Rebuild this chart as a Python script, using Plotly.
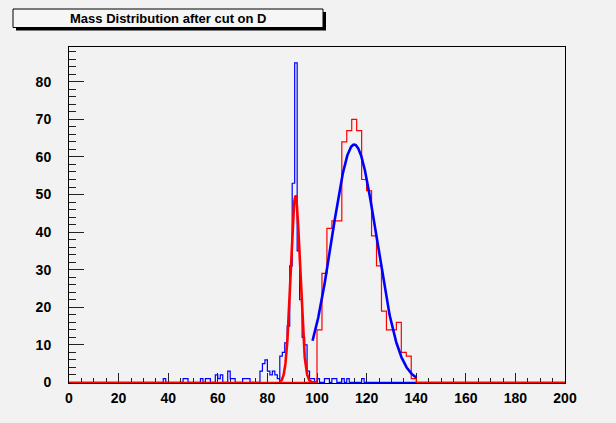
import numpy as np
import plotly.graph_objects as go

# ---- data ----
# blue histogram (bin width 1, range 0-200): non-empty bins (left edges) and counts
blue_bins = [38, 46, 47, 53, 55, 56, 59, 60, 61, 64, 65, 66, 70, 71, 72,
             77, 78, 79, 80, 81, 82, 83, 84, 85, 86, 87, 88, 89, 90, 91,
             92, 93, 94, 95, 96, 97, 98, 100, 103, 104, 106, 107, 110, 112, 118]
blue_counts = [1, 1, 1, 1, 1, 1, 2, 1, 2, 3, 1, 1, 1, 1, 1,
               3, 5, 6, 3, 2, 3, 2, 1, 7, 8, 10.5, 15, 31, 53, 85,
               35, 22, 12, 10, 3, 1, 1, 1, 1, 1, 1, 1, 1, 1, 1]

# red histogram (bin width 2, range 0-200): non-empty bins (left edges) and counts
red_bins = [100, 102, 104, 106, 108, 110, 112, 114, 116, 118,
            120, 122, 124, 126, 128, 130, 132, 134, 136, 138]
red_counts = [14, 29, 41, 43, 43, 64, 67, 70, 67, 54,
              51, 39, 31, 19, 14, 14, 16, 8, 7, 1]

# gaussian fits: amplitude, mean, sigma, fit range
red_fit = [49.7, 91.3, 1.88, 85.0, 100.0]
blue_fit = [63.3, 115.0, 9.0, 98.2, 140.0]

x_ticks = [0, 20, 40, 60, 80, 100, 120, 140, 160, 180, 200]
y_ticks = [0, 10, 20, 30, 40, 50, 60, 70, 80]
title_text = "Mass Distribution after cut on D"

X_MIN, X_MAX = 0, 200
Y_MAX = 89.25

BG = "#f2f2f2"
FONT = "Liberation Sans, Arial, sans-serif"


def hist_steps(bins, counts, width):
    edges = np.arange(X_MIN, X_MAX + width, width, dtype=float)
    full = np.zeros(len(edges) - 1)
    for b, c in zip(bins, counts):
        full[int(round((b - X_MIN) / width))] = c
    return edges, np.append(full, full[-1])


def gauss(p, n=300):
    a, m, s, lo, hi = p
    xs = np.linspace(lo, hi, n)
    return xs, a * np.exp(-0.5 * ((xs - m) / s) ** 2)


fig = go.Figure()

bx, by = hist_steps(blue_bins, blue_counts, 1)
fig.add_trace(go.Scatter(x=bx, y=by, mode="lines", line=dict(color="#0000ff", width=1.2, shape="hv"),
                         hoverinfo="skip", showlegend=False))
rx, ry = hist_steps(red_bins, red_counts, 2)
fig.add_trace(go.Scatter(x=rx, y=ry, mode="lines", line=dict(color="#ff0000", width=1.2, shape="hv"),
                         hoverinfo="skip", showlegend=False))
gx, gy = gauss(red_fit)
fig.add_trace(go.Scatter(x=gx, y=gy, mode="lines", line=dict(color="#ff0000", width=2.6),
                         hoverinfo="skip", showlegend=False))
gx, gy = gauss(blue_fit)
fig.add_trace(go.Scatter(x=gx, y=gy, mode="lines", line=dict(color="#0000ff", width=2.6),
                         hoverinfo="skip", showlegend=False))

W, H = 616, 423
L, R, T, B = 69, 51, 47, 40
pw, ph = W - L - R, H - T - B


def px2paper(px, py):
    return (px - L) / pw, (H - B - py) / ph


tick_font = dict(family=FONT, size=14, color="black", weight="bold")

fig.update_layout(
    width=W, height=H,
    margin=dict(l=L, r=R, t=T, b=B, pad=0),
    paper_bgcolor=BG, plot_bgcolor=BG,
    xaxis=dict(range=[X_MIN, X_MAX], tickvals=x_ticks, ticktext=[str(v) for v in x_ticks],
               ticks="inside", ticklen=10, tickwidth=1, tickcolor="#222",
               minor=dict(dtick=5, tick0=0, ticks="inside", ticklen=5, tickwidth=1, tickcolor="#222", showgrid=False),
               showline=True, mirror=True, linecolor="black", linewidth=1,
               showgrid=False, zeroline=False, tickfont=tick_font, layer="below traces",
               ticklabelstandoff=2),
    yaxis=dict(range=[-0.15, Y_MAX], tickvals=y_ticks, ticktext=[str(v) for v in y_ticks],
               ticks="inside", ticklen=15, tickwidth=1, tickcolor="#222",
               minor=dict(dtick=2, tick0=0, ticks="inside", ticklen=7, tickwidth=1, tickcolor="#222", showgrid=False),
               showline=True, mirror=True, linecolor="black", linewidth=1,
               showgrid=False, zeroline=False, tickfont=tick_font, layer="below traces",
               ticklabelstandoff=14),
)

# title box with ROOT-like shadow
x0, y0 = px2paper(13, 9)
x1, y1 = px2paper(323, 27.5)
sx0, sy0 = px2paper(16, 12)
sx1, sy1 = px2paper(326, 30.5)
fig.add_shape(type="rect", xref="paper", yref="paper", x0=sx0, x1=sx1, y0=sy1, y1=sy0,
              line=dict(width=0), fillcolor="black", layer="above")
fig.add_shape(type="rect", xref="paper", yref="paper", x0=x0, x1=x1, y0=y1, y1=y0,
              line=dict(width=1, color="black"), fillcolor="#f6f6f6", layer="above")
cx, cy = px2paper(168, 18.3)
fig.add_annotation(x=cx, y=cy, xref="paper", yref="paper", text=title_text, showarrow=False,
                   xanchor="center", yanchor="middle",
                   font=dict(family=FONT, size=13, color="black", weight="bold"))

fig.write_html("out.html")
